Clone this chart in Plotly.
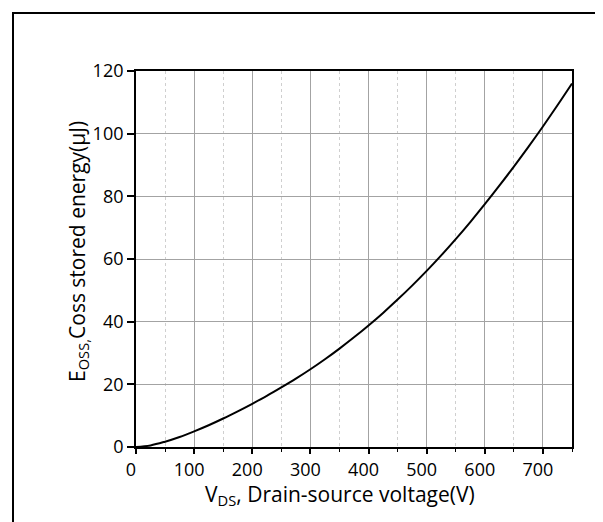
import plotly.graph_objects as go

# Data
vds = [0, 25, 50, 75, 100, 125, 150, 175, 200, 225, 250, 275, 300, 325, 350,
       375, 400, 425, 450, 475, 500, 525, 550, 575, 600, 625, 650, 675, 700,
       725, 750]
eoss = [0.0, 0.5, 1.7, 3.2, 5.0, 6.95, 9.1, 11.4, 13.8, 16.3, 19.0, 21.8, 24.8,
        28.0, 31.4, 35.0, 38.8, 42.8, 47.05, 51.5, 56.2, 61.15, 66.35, 71.8,
        77.5, 83.4, 89.5, 95.8, 102.3, 109.05, 116.0]

x_ticks = [0, 100, 200, 300, 400, 500, 600, 700]
y_ticks = [0, 20, 40, 60, 80, 100, 120]

x_title = "V<sub>DS</sub>, Drain-source voltage(V)"
y_title = "E<sub>OSS,</sub>Coss stored energy(μJ)"

FONT = "Open Sans"

fig = go.Figure()
fig.add_trace(go.Scatter(x=vds, y=eoss, mode="lines",
                         line=dict(color="black", width=2, shape="spline"),
                         showlegend=False, hoverinfo="skip"))

fig.update_layout(
    width=603, height=522,
    margin=dict(l=128, r=39, t=63, b=83),
    paper_bgcolor="white", plot_bgcolor="white",
    font=dict(family=FONT, color="black"),
    showlegend=False,
)

fig.update_xaxes(
    range=[0, 750], tickvals=x_ticks, ticktext=[str(v) for v in x_ticks],
    showline=True, linecolor="black", linewidth=1.8, mirror=True,
    ticks="outside", ticklen=5, tickwidth=1.5, tickcolor="black",
    showgrid=True, gridcolor="#a3a3a3", gridwidth=1,
    zeroline=False,
    tickfont=dict(family=FONT, size=18, color="black"),
    ticklabelshift=-5,
    minor=dict(dtick=50, tick0=0, ticks="outside", ticklen=3, tickwidth=1.2,
               tickcolor="black", showgrid=True, gridcolor="#cfcfcf",
               griddash="dot", gridwidth=1),
)
fig.update_yaxes(
    range=[0, 120], tickvals=y_ticks, ticktext=[str(v) for v in y_ticks],
    showline=True, linecolor="black", linewidth=1.8, mirror=True,
    ticks="outside", ticklen=7, tickwidth=1.5, tickcolor="black",
    showgrid=True, gridcolor="#a3a3a3", gridwidth=1,
    zeroline=False,
    tickfont=dict(family=FONT, size=18, color="black"),
)

fig.add_annotation(text=x_title, xref="paper", yref="paper",
                   x=(332 - 128) / 436, y=(439 - 487) / 376,
                   xanchor="center", yanchor="middle",
                   showarrow=False, font=dict(family=FONT, size=21, color="black"))
fig.add_annotation(text=y_title, xref="paper", yref="paper",
                   x=(70 - 128) / 436, y=(439 - 244) / 376,
                   xanchor="center", yanchor="middle",
                   textangle=-90, showarrow=False,
                   font=dict(family=FONT, size=21, color="black"))

# Outer frame
fig.add_shape(type="rect", xref="paper", yref="paper",
              x0=(5 - 128) / 436, x1=(598 - 128) / 436,
              y0=(439 - 530) / 376, y1=(439 - 5) / 376,
              line=dict(color="black", width=2), fillcolor="rgba(0,0,0,0)",
              layer="above")

fig.write_html("out.html")
